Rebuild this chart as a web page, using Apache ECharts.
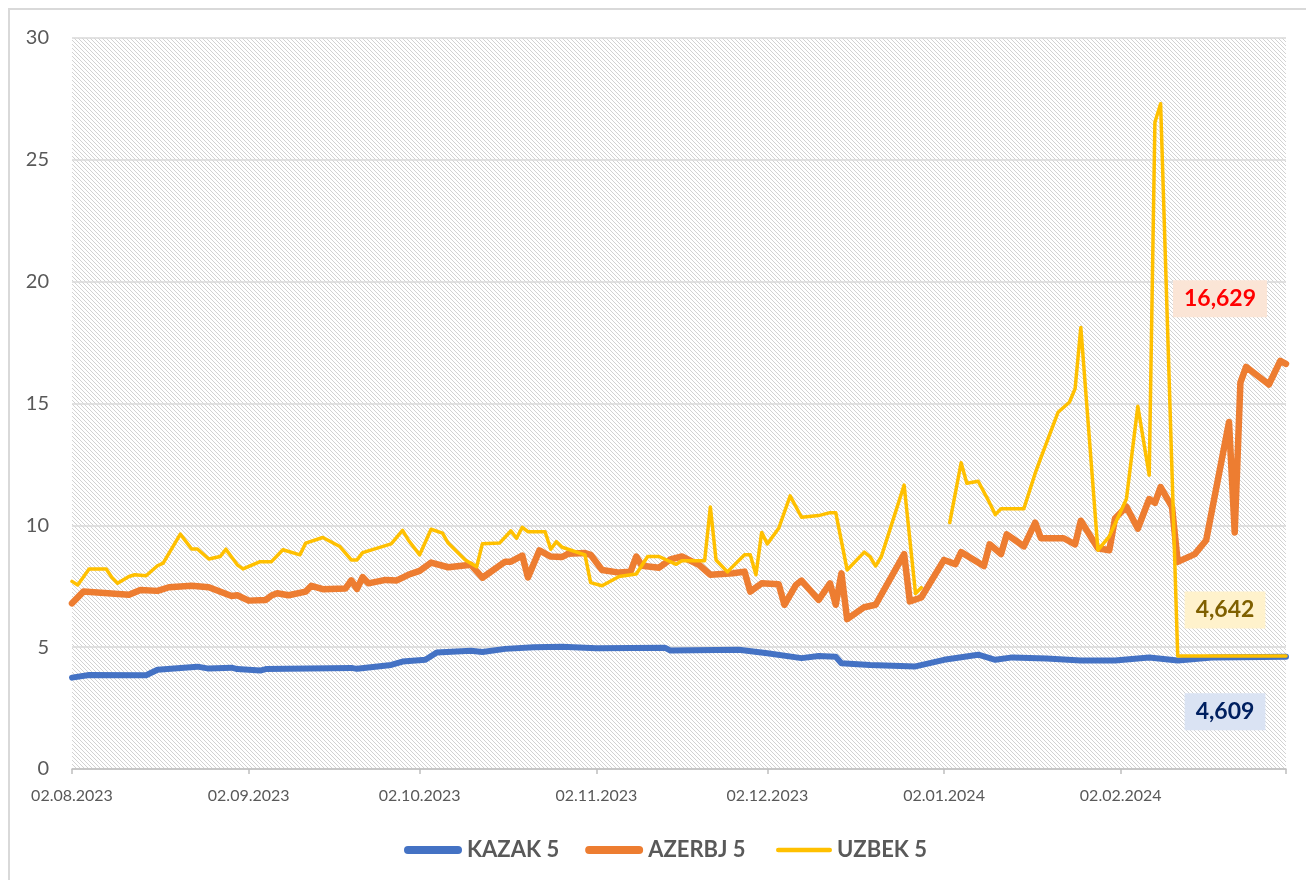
<!DOCTYPE html>
<html>
<head>
<meta charset="utf-8">
<script src="https://cdn.jsdelivr.net/npm/echarts@6/dist/echarts.min.js"></script>
<style>
  html, body { margin: 0; padding: 0; background: #fff; overflow: hidden; }
  #frame { position: absolute; left: 8px; top: 8px; width: 1320px; height: 900px; border: 2px solid #D9D9D9; box-sizing: border-box; }
  #chart { position: absolute; left: 0; top: 0; width: 1306px; height: 880px; }
</style>
</head>
<body>
<div id="frame"></div>
<div id="chart"></div>
<script>
// axis dates (2nd of every month)
const tickDates = ['2023-08-02', '2023-09-02', '2023-10-02', '2023-11-02', '2023-12-02', '2024-01-02', '2024-02-02', '2024-03-02'];
const labelDates = tickDates.slice(0, 7);

const seriesNames = ['KAZAK 5', 'AZERBJ 5', 'UZBEK 5'];

const kazakDates = ['2023-08-02', '2023-08-05', '2023-08-15', '2023-08-17', '2023-08-24', '2023-08-26', '2023-08-30', '2023-08-31',
  '2023-09-04', '2023-09-05', '2023-09-20', '2023-09-21', '2023-09-27', '2023-09-29', '2023-10-03', '2023-10-05',
  '2023-10-11', '2023-10-13', '2023-10-17', '2023-10-22', '2023-10-27', '2023-11-02', '2023-11-14', '2023-11-15',
  '2023-11-27', '2023-12-02', '2023-12-08', '2023-12-11', '2023-12-14', '2023-12-15', '2023-12-20', '2023-12-28',
  '2024-01-02', '2024-01-08', '2024-01-11', '2024-01-14', '2024-01-20', '2024-01-26', '2024-02-01', '2024-02-07',
  '2024-02-12', '2024-02-18', '2024-03-02'];
const kazakValues = [3.75, 3.86, 3.85, 4.07, 4.20, 4.12, 4.16, 4.10,
  4.04, 4.10, 4.15, 4.11, 4.27, 4.41, 4.48, 4.78,
  4.85, 4.80, 4.93, 5.00, 5.02, 4.96, 4.98, 4.86,
  4.89, 4.75, 4.55, 4.64, 4.61, 4.34, 4.27, 4.21,
  4.48, 4.69, 4.48, 4.58, 4.53, 4.45, 4.45, 4.58,
  4.45, 4.58, 4.609];

const azerbjDates = ['2023-08-02', '2023-08-04', '2023-08-12', '2023-08-14', '2023-08-17', '2023-08-19', '2023-08-23', '2023-08-26',
  '2023-08-30', '2023-08-31', '2023-09-02', '2023-09-05', '2023-09-06', '2023-09-07', '2023-09-09', '2023-09-12',
  '2023-09-13', '2023-09-15', '2023-09-19', '2023-09-20', '2023-09-21', '2023-09-22', '2023-09-23', '2023-09-26',
  '2023-09-28', '2023-09-30', '2023-10-02', '2023-10-04', '2023-10-07', '2023-10-11', '2023-10-13', '2023-10-17',
  '2023-10-18', '2023-10-20', '2023-10-21', '2023-10-23', '2023-10-25', '2023-10-27', '2023-10-28', '2023-10-31',
  '2023-11-01', '2023-11-03', '2023-11-06', '2023-11-08', '2023-11-09', '2023-11-10', '2023-11-13', '2023-11-15',
  '2023-11-17', '2023-11-20', '2023-11-22', '2023-11-26', '2023-11-28', '2023-11-29', '2023-12-01', '2023-12-04',
  '2023-12-05', '2023-12-07', '2023-12-08', '2023-12-11', '2023-12-13', '2023-12-14', '2023-12-15', '2023-12-16',
  '2023-12-19', '2023-12-21', '2023-12-26', '2023-12-27', '2023-12-29', '2024-01-02', '2024-01-04', '2024-01-05',
  '2024-01-09', '2024-01-10', '2024-01-12', '2024-01-13', '2024-01-16', '2024-01-18', '2024-01-19', '2024-01-23',
  '2024-01-25', '2024-01-26', '2024-01-29', '2024-01-31', '2024-02-01', '2024-02-03', '2024-02-05', '2024-02-07',
  '2024-02-08', '2024-02-09', '2024-02-11', '2024-02-12', '2024-02-15', '2024-02-17', '2024-02-21', '2024-02-22',
  '2024-02-23', '2024-02-24', '2024-02-28', '2024-03-01', '2024-03-02'];
const azerbjValues = [6.80, 7.28, 7.15, 7.35, 7.31, 7.46, 7.52, 7.46,
  7.10, 7.13, 6.91, 6.94, 7.12, 7.21, 7.13, 7.28,
  7.52, 7.38, 7.41, 7.74, 7.39, 7.87, 7.62, 7.76,
  7.74, 7.97, 8.13, 8.47, 8.28, 8.38, 7.85, 8.51,
  8.51, 8.76, 7.86, 8.97, 8.72, 8.70, 8.83, 8.86,
  8.79, 8.17, 8.06, 8.10, 8.72, 8.34, 8.26, 8.60,
  8.72, 8.38, 7.97, 8.03, 8.10, 7.28, 7.62, 7.58,
  6.74, 7.55, 7.73, 6.94, 7.62, 6.74, 8.03, 6.15,
  6.64, 6.74, 8.82, 6.88, 7.04, 8.58, 8.41, 8.90,
  8.33, 9.22, 8.82, 9.63, 9.14, 10.11, 9.47, 9.47,
  9.22, 10.19, 9.06, 8.98, 10.28, 10.76, 9.87, 11.08,
  10.92, 11.57, 10.76, 8.50, 8.82, 9.39, 14.24, 9.71,
  15.86, 16.50, 15.78, 16.75, 16.629];

const uzbekDates = ['2023-08-02', '2023-08-03', '2023-08-05', '2023-08-08', '2023-08-09', '2023-08-10', '2023-08-12', '2023-08-13',
  '2023-08-15', '2023-08-17', '2023-08-18', '2023-08-21', '2023-08-23', '2023-08-24', '2023-08-26', '2023-08-28',
  '2023-08-29', '2023-08-31', '2023-09-01', '2023-09-04', '2023-09-06', '2023-09-08', '2023-09-11', '2023-09-12',
  '2023-09-15', '2023-09-18', '2023-09-20', '2023-09-21', '2023-09-22', '2023-09-27', '2023-09-29', '2023-09-30',
  '2023-10-02', '2023-10-04', '2023-10-06', '2023-10-07', '2023-10-10', '2023-10-12', '2023-10-13', '2023-10-16',
  '2023-10-18', '2023-10-19', '2023-10-20', '2023-10-21', '2023-10-24', '2023-10-25', '2023-10-26', '2023-10-27',
  '2023-10-31', '2023-11-01', '2023-11-03', '2023-11-06', '2023-11-09', '2023-11-11', '2023-11-13', '2023-11-16',
  '2023-11-17', '2023-11-21', '2023-11-22', '2023-11-23', '2023-11-25', '2023-11-28', '2023-11-29', '2023-11-30',
  '2023-12-01', '2023-12-02', '2023-12-04', '2023-12-06', '2023-12-08', '2023-12-11', '2023-12-13', '2023-12-14',
  '2023-12-16', '2023-12-19', '2023-12-20', '2023-12-21', '2023-12-22', '2023-12-26', '2023-12-28', '2023-12-29',
  '2023-12-31', '2024-01-03', '2024-01-05', '2024-01-06', '2024-01-08', '2024-01-10', '2024-01-11', '2024-01-12',
  '2024-01-16', '2024-01-18', '2024-01-19', '2024-01-22', '2024-01-24', '2024-01-25', '2024-01-26', '2024-01-29',
  '2024-01-31', '2024-02-03', '2024-02-05', '2024-02-07', '2024-02-08', '2024-02-09', '2024-02-12', '2024-02-19',
  '2024-02-26', '2024-03-02'];
const uzbekValues = [7.70, 7.55, 8.21, 8.21, 7.86, 7.62, 7.90, 7.97,
  7.93, 8.34, 8.45, 9.64, 9.03, 9.03, 8.62, 8.72,
  9.02, 8.38, 8.21, 8.51, 8.51, 9.00, 8.79, 9.27,
  9.50, 9.13, 8.58, 8.58, 8.88, 9.24, 9.79, 9.40,
  8.79, 9.84, 9.68, 9.27, 8.58, 8.30, 9.24, 9.27,
  9.77, 9.47, 9.92, 9.74, 9.74, 9.02, 9.33, 9.10,
  8.79, 7.65, 7.52, 7.90, 8.00, 8.72, 8.72, 8.40,
  8.55, 8.55, 10.75, 8.58, 8.09, 8.79, 8.79, 7.97,
  9.71, 9.24, 9.88, 11.21, 10.33, 10.40, 10.52, 10.52,
  8.17, 8.90, 8.72, 8.33, 8.72, 11.65, 7.20, 7.44,
  null, 10.11, 12.57, 11.73, 11.81, 10.92, 10.44, 10.68,
  10.68, 12.14, 12.78, 14.64, 15.05, 15.61, 18.12, 8.98,
  9.55, 11.08, 14.89, 12.06, 26.54, 27.30, 4.64, 4.64,
  4.64, 4.642];

const colors = ['#4472C4', '#ED7D31', '#FFC000'];
const lineWidths = [6, 6.5, 3.5];
const endLabelColors = ['#002060', '#FF0000', '#7F6000'];
const endLabelBacks = ['#DAE3F3', '#FBE5D6', '#FFF2CC'];
const endLabelOffsets = [[-61, 55], [-66, -65], [-61, -46]];

function toTime(s) {
  const p = s.split('-').map(Number);
  return new Date(p[0], p[1] - 1, p[2]).getTime();
}
function pad(n) { return n < 10 ? '0' + n : '' + n; }
function fmtDate(v) {
  const d = new Date(v);
  return pad(d.getDate()) + '.' + pad(d.getMonth() + 1) + '.' + d.getFullYear();
}
// pill shaped legend icon
function pill(w, h) {
  const r = h / 2;
  return 'path://M' + r + ',0 L' + (w - r) + ',0 A' + r + ',' + r + ' 0 0 1 ' + (w - r) + ',' + h +
    ' L' + r + ',' + h + ' A' + r + ',' + r + ' 0 0 1 ' + r + ',0 Z';
}

// hatched plot background
const hatch = document.createElement('canvas');
hatch.width = 4;
hatch.height = 4;
const hc = hatch.getContext('2d');
hc.fillStyle = '#ffffff';
hc.fillRect(0, 0, 4, 4);
hc.fillStyle = '#d2d2d2';
for (let i = 0; i < 4; i++) hc.fillRect(i, i, 1, 1);

const allDates = [kazakDates, azerbjDates, uzbekDates];
const allValues = [kazakValues, azerbjValues, uzbekValues];

const series = seriesNames.map((name, k) => {
  const dates = allDates[k];
  const vals = allValues[k];
  const last = vals.length - 1;
  return {
    name,
    type: 'line',
    symbol: 'none',
    animation: false,
    data: dates.map((d, i) => [toTime(d), vals[i]]),
    lineStyle: { color: colors[k], width: lineWidths[k], cap: 'round', join: 'round' },
    itemStyle: { color: colors[k] },
    markPoint: {
      symbol: 'circle',
      symbolSize: 0,
      silent: true,
      animation: false,
      data: [{ coord: [toTime(dates[last]), vals[last]], value: vals[last] }],
      label: {
        show: true,
        position: 'inside',
        offset: endLabelOffsets[k],
        formatter: p => p.value.toFixed(3).replace('.', ','),
        color: endLabelColors[k],
        backgroundColor: endLabelBacks[k],
        fontFamily: 'Lato',
        fontWeight: 'bold',
        fontSize: 23,
        padding: [8, 11, 6, 11]
      }
    }
  };
});

const legendText = { color: '#595959', fontSize: 22, fontWeight: 'bold', fontFamily: 'Lato' };

const chart = echarts.init(document.getElementById('chart'));
chart.setOption({
  animation: false,
  backgroundColor: 'transparent',
  textStyle: { fontFamily: 'Lato' },
  grid: {
    left: 72, right: 20, top: 38, bottom: 111,
    show: true,
    borderWidth: 0,
    backgroundColor: { image: hatch, repeat: 'repeat' }
  },
  legend: [
    {
      data: seriesNames.slice(0, 2),
      left: 399,
      top: 834,
      icon: pill(58, 8),
      itemWidth: 58,
      itemHeight: 8,
      itemGap: 26,
      itemStyle: { borderWidth: 0 },
      textStyle: legendText
    },
    {
      data: seriesNames.slice(2),
      left: 771,
      top: 834,
      icon: pill(56, 4.5),
      itemWidth: 56,
      itemHeight: 4.5,
      itemStyle: { borderWidth: 0 },
      textStyle: legendText
    }
  ],
  xAxis: {
    type: 'value',
    min: toTime(tickDates[0]),
    max: toTime(tickDates[tickDates.length - 1]),
    axisLine: { lineStyle: { color: '#BFBFBF', width: 1.5 } },
    axisTick: { show: true, customValues: tickDates.map(toTime), length: 5, lineStyle: { color: '#BFBFBF', width: 1.5 } },
    axisLabel: { customValues: labelDates.map(toTime), formatter: fmtDate, color: '#595959', fontSize: 16, margin: 19 },
    splitLine: { show: false }
  },
  yAxis: {
    type: 'value',
    min: 0,
    max: 30,
    interval: 5,
    axisLine: { show: false },
    axisTick: { show: false },
    axisLabel: { color: '#595959', fontSize: 20, margin: 23 },
    splitLine: { lineStyle: { color: '#D9D9D9', width: 1.5 } }
  },
  series
});
</script>
</body>
</html>
